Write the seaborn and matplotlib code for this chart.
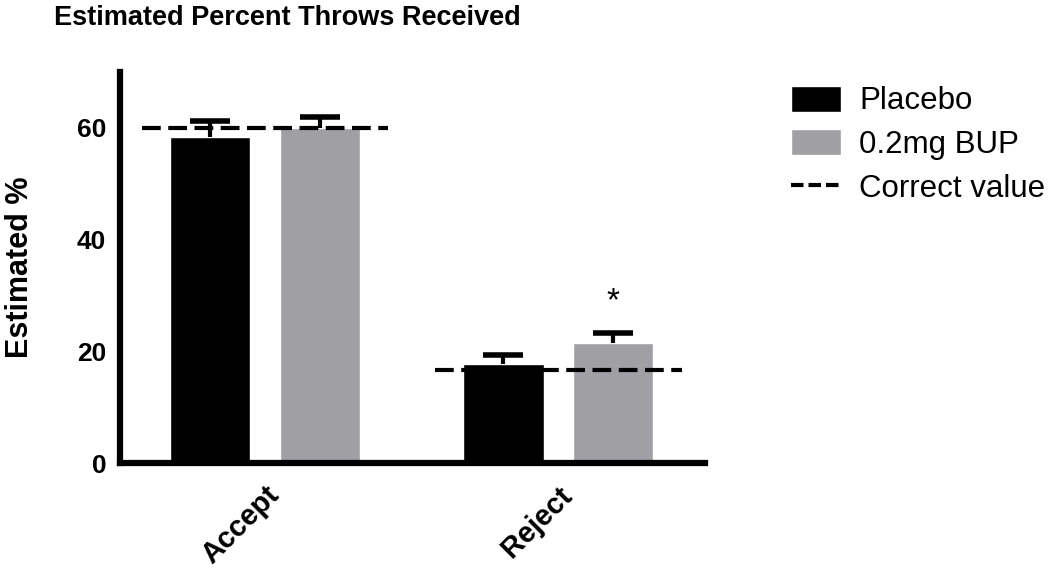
import pandas as pd
import matplotlib
matplotlib.use("Agg")
import matplotlib.pyplot as plt
from matplotlib.lines import Line2D
import seaborn as sns

# Werte
categories = ["Accept", "Reject"]
groups = ["Placebo", "0.2mg BUP"]
placebo_mean = [58.4, 17.7]
placebo_sem = [2.9, 1.6]
bup_mean = [60.0, 21.5]
bup_sem = [2.0, 1.8]
correct_value = [60.0, 16.6]
significant = [False, True]  # Stern über BUP-Balken

sns.set_style("white")
plt.rcParams["font.family"] = ["Liberation Sans", "DejaVu Sans"]
plt.rcParams["text.color"] = "black"
plt.rcParams["axes.edgecolor"] = "black"
plt.rcParams["xtick.color"] = "black"
plt.rcParams["ytick.color"] = "black"
plt.rcParams["axes.labelcolor"] = "black"

df = pd.DataFrame({
    "response": categories * 2,
    "group": [groups[0]] * 2 + [groups[1]] * 2,
    "mean": placebo_mean + bup_mean,
    "sem": placebo_sem + bup_sem,
})

fig = plt.figure(figsize=(10.5, 5.71), dpi=100)
ax = fig.add_axes([0.1143, 0.189, 0.5571, 0.685])

sns.barplot(data=df, x="response", y="mean", hue="group", order=categories,
            hue_order=groups, palette=["#000000", "#A0A0A4"], saturation=1,
            width=0.75, gap=0.27, errorbar=None, ax=ax, legend=True)

# einseitige Fehlerbalken nach oben, nur obere Kappe
for cont, g in zip(ax.containers, groups):
    sub = df[df["group"] == g].set_index("response").loc[categories]
    for bar, m, e in zip(cont.patches, sub["mean"], sub["sem"]):
        xc = bar.get_x() + bar.get_width() / 2
        ax.errorbar(xc, m, yerr=[[0], [e]], fmt="none", ecolor="black",
                    elinewidth=3, capsize=0, zorder=3)
        ax.plot(xc, m + e, marker="_", markersize=29, mew=4, color="black",
                zorder=3)

# Sollwert-Linien
for i, cv in enumerate(correct_value):
    ax.hlines(cv, i - 0.42, i + 0.42, colors="black", linestyles=(0, (4.5, 1.8)),
              linewidth=3, zorder=4)

# Signifikanz-Stern
bup = df[df["group"] == groups[1]].set_index("response").loc[categories]
for bar, sig, m, e in zip(ax.containers[1].patches, significant, bup["mean"], bup["sem"]):
    if sig:
        ax.text(bar.get_x() + bar.get_width() / 2, m + e + 5.5, "*",
                ha="center", va="center", fontsize=24)

ax.set_ylim(0, 70)
ax.set_xlim(-0.495, 1.50)
ax.set_yticks([0, 20, 40, 60])
ax.set_xlabel("")
ax.set_ylabel("Estimated %", fontsize=22, fontweight="bold", labelpad=30)
for s in ["top", "right"]:
    ax.spines[s].set_visible(False)
for s in ["left", "bottom"]:
    ax.spines[s].set_linewidth(4.5)
ax.tick_params(axis="both", direction="out", length=8, width=3, labelsize=19,
               pad=2)
ax.tick_params(axis="x", pad=5)
for lab in ax.get_yticklabels():
    lab.set_fontweight("bold")
for lab in ax.get_xticklabels():
    lab.set_fontweight("bold")
    lab.set_fontsize(21)
    lab.set_rotation(45)
    lab.set_ha("right")
    lab.set_rotation_mode("anchor")

handles, labels = ax.get_legend_handles_labels()
handles = handles[:2] + [Line2D([0], [0], color="black", linewidth=3,
                                linestyle=(0, (3, 1.2)))]
labels = labels[:2] + ["Correct value"]
ax.legend(handles, labels, loc="upper left", bbox_to_anchor=(0.741, 0.872),
          bbox_transform=fig.transFigure, frameon=False, fontsize=22.5,
          handlelength=1.6, handleheight=0.9, handletextpad=0.6, labelspacing=0.42,
          borderaxespad=0)

fig.text(0.274, 0.968, "Estimated Percent Throws Received",
         family=["Liberation Sans", "DejaVu Sans"],
         fontsize=19.5, fontweight="bold", ha="center", va="center")

fig.savefig("out.png", dpi=100)
plt.close(fig)
